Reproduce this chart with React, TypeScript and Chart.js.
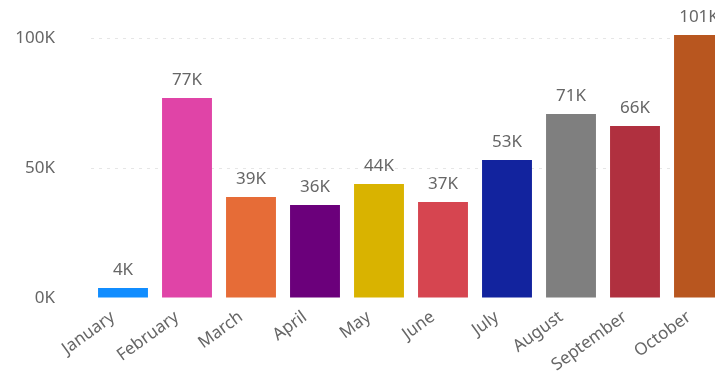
import React, { useEffect, useRef } from "react";
import { Chart, registerables } from "chart.js";

Chart.register(...registerables);

const months = ["January", "February", "March", "April", "May", "June", "July", "August", "September", "October"];
const sales = [3800, 76900, 38800, 35800, 43800, 36900, 53100, 70800, 66200, 101200];
const barColors = ["#118DFF", "#E044A7", "#E66C37", "#6B007B", "#D9B300", "#D64550", "#12239E", "#7F7F7F", "#B0303F", "#B8561F"];
const yTicks = [0, 50000, 100000];

const fmtK = (v: number) => Math.round(v / 1000) + "K";
const FONT = "'Segoe UI', 'Noto Sans', sans-serif";

const labelPlugin = {
  id: "barLabels",
  afterDatasetsDraw(chart: any) {
    const ctx = chart.ctx;
    const meta = chart.getDatasetMeta(0);
    ctx.save();
    ctx.font = `17px ${FONT}`;
    ctx.fillStyle = "#666666";
    ctx.textAlign = "center";
    ctx.textBaseline = "alphabetic";
    meta.data.forEach((bar: any, i: number) => {
      ctx.fillText(fmtK(sales[i]), bar.x, bar.y - 13);
    });
    ctx.restore();
  },
};

export default function App() {
  const ref = useRef<HTMLCanvasElement>(null);
  useEffect(() => {
    const chart = new Chart(ref.current!, {
      type: "bar",
      data: {
        labels: months,
        datasets: [{ data: sales, backgroundColor: barColors, barPercentage: 0.78, categoryPercentage: 1 }],
      },
      options: {
        animation: false,
        responsive: false,
        maintainAspectRatio: false,
        layout: { padding: { top: 12, right: 9, left: 0, bottom: 0 } },
        plugins: { legend: { display: false }, tooltip: { enabled: false } },
        scales: {
          x: {
            grid: { display: false },
            border: { display: false },
            ticks: {
              color: "#666666",
              font: { family: FONT, size: 17 },
              minRotation: 36,
              maxRotation: 36,
              padding: 1,
              labelOffset: -10,
              autoSkip: false,
            },
            afterFit: (s: any) => { s.height = 76; },
          },
          y: {
            min: 0,
            max: 110000,
            afterBuildTicks: (s: any) => { s.ticks = yTicks.map((v) => ({ value: v })); },
            grid: {
              color: (c: any) => (c.tick && c.tick.value === 0 ? "rgba(0,0,0,0)" : "#e6e6e6"),
              drawTicks: false,
            },
            border: { display: false, dash: [3, 5] },
            ticks: {
              color: "#666666",
              font: { family: FONT, size: 17 },
              padding: 36,
              callback: (v: any) => fmtK(Number(v)),
            },
            afterFit: (s: any) => {
              s.width = 91;
              s.paddingTop = 0;
              s.paddingBottom = 0;
            },
          },
        },
      },
      plugins: [labelPlugin],
    });
    return () => chart.destroy();
  }, []);
  return (
    <div style={{ position: "fixed", left: 0, top: 0, width: 715, height: 374, overflow: "hidden", background: "#fff" }}>
      <canvas ref={ref} width={740} height={374} style={{ display: "block", width: 740, height: 374 }} />
    </div>
  );
}
